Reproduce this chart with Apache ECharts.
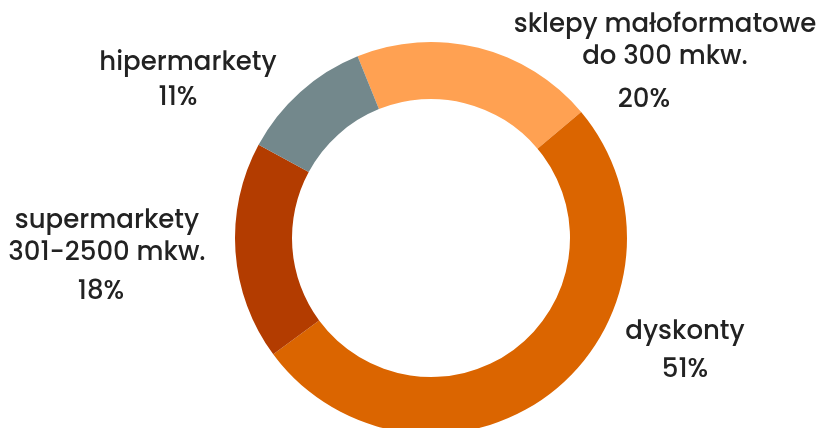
<!DOCTYPE html>
<html>
<head>
<meta charset="utf-8">
<script src="https://cdn.jsdelivr.net/npm/echarts@6/dist/echarts.min.js"></script>
<style>
  html, body { margin: 0; padding: 0; background: #ffffff; }
  #chart { width: 819px; height: 428px; }
</style>
</head>
<body>
<div id="chart"></div>
<script>
// Store formats and their share of sales
const categories = ['sklepy małoformatowe\ndo 300 mkw.', 'dyskonty', 'supermarkety\n301-2500 mkw.', 'hipermarkety'];
const shares = [20, 51, 18, 11];
const colors = ['#FFA152', '#DB6500', '#B33C00', '#73888C'];

// Label anchor points (centre of text block) for names and percentages
const nameAnchors = [[665, 41], [685, 332], [107, 237], [188, 63]];
const pctAnchors = [[644, 100], [685, 370], [101, 292], [178, 98]];

const font = 'Poppins, Lato, "Noto Sans", sans-serif';
const center = [431, 238];
const radius = [139, 196];

const chart = echarts.init(document.getElementById('chart'), null, { renderer: 'canvas' });

const ringData = categories.map((name, i) => ({
  name: name,
  value: shares[i],
  itemStyle: { color: colors[i] }
}));

chart.setOption({
  animation: false,
  backgroundColor: '#ffffff',
  series: [
    {
      type: 'pie',
      center: center,
      radius: radius,
      startAngle: 112,
      clockwise: true,
      silent: true,
      avoidLabelOverlap: false,
      data: ringData,
      itemStyle: { borderWidth: 0 },
      label: {
        show: true,
        position: 'outside',
        formatter: '{b}',
        color: '#222222',
        fontFamily: font,
        fontSize: 26,
        fontWeight: 500,
        lineHeight: 32,
        align: 'center',
        overflow: 'none',
        edgeDistance: 0,
        bleedMargin: 0
      },
      labelLine: { show: false },
      labelLayout: function (p) {
        const a = nameAnchors[p.dataIndex];
        return { x: a[0], y: a[1], align: 'center', verticalAlign: 'middle' };
      }
    },
    {
      type: 'pie',
      center: center,
      radius: radius,
      startAngle: 112,
      clockwise: true,
      silent: true,
      avoidLabelOverlap: false,
      z: 1,
      data: categories.map((name, i) => ({
        name: name,
        value: shares[i],
        itemStyle: { color: 'rgba(0,0,0,0)' }
      })),
      label: {
        show: true,
        position: 'outside',
        formatter: '{c}%',
        color: '#222222',
        fontFamily: font,
        fontSize: 26,
        fontWeight: 500,
        overflow: 'none'
      },
      labelLine: { show: false },
      labelLayout: function (p) {
        const a = pctAnchors[p.dataIndex];
        return { x: a[0], y: a[1], align: 'center', verticalAlign: 'middle' };
      }
    }
  ]
});
</script>
</body>
</html>
